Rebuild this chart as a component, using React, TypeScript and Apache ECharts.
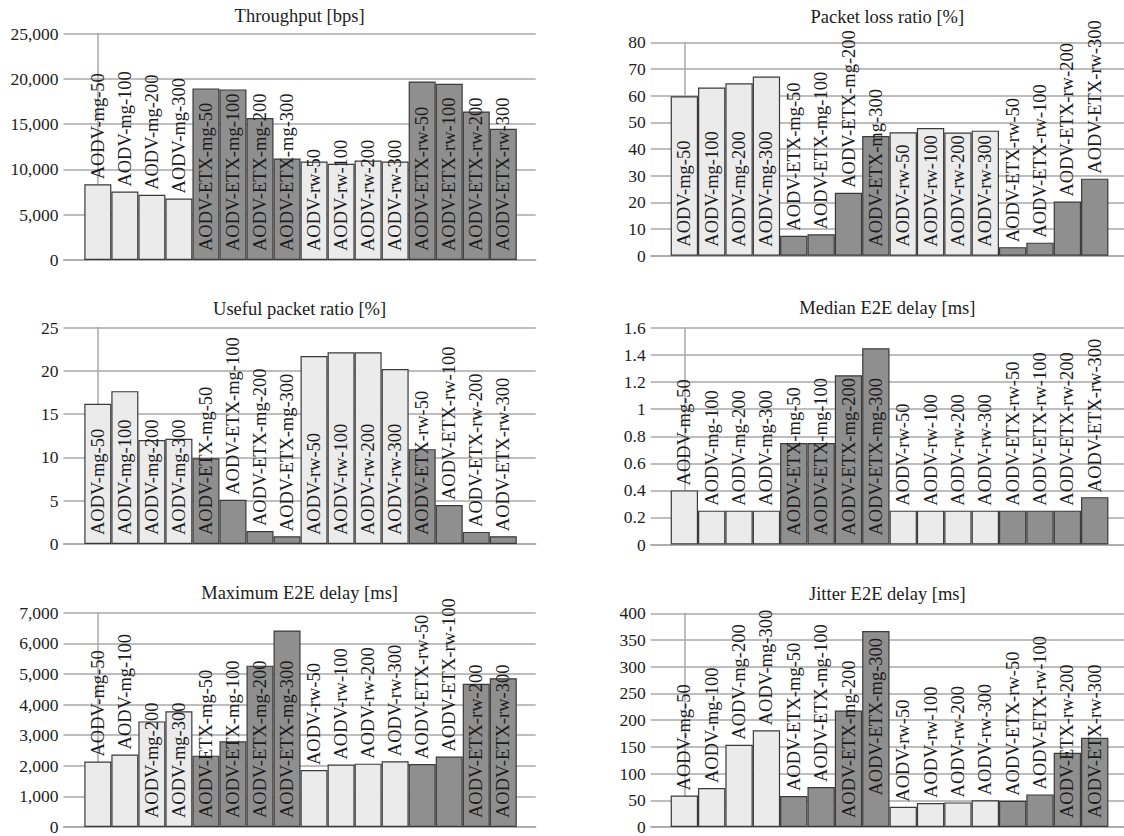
import React, { useEffect, useRef } from "react";
import * as echarts from "echarts";

const categories = [
  "AODV-mg-50", "AODV-mg-100", "AODV-mg-200", "AODV-mg-300",
  "AODV-ETX-mg-50", "AODV-ETX-mg-100", "AODV-ETX-mg-200", "AODV-ETX-mg-300",
  "AODV-rw-50", "AODV-rw-100", "AODV-rw-200", "AODV-rw-300",
  "AODV-ETX-rw-50", "AODV-ETX-rw-100", "AODV-ETX-rw-200", "AODV-ETX-rw-300",
];

const throughput = [8350, 7550, 7190, 6790, 18940, 18830, 15660, 11200, 10880, 10620, 10990, 10880, 19710, 19450, 16390, 14490];
const packetLoss = [59.8, 63.1, 64.7, 67.2, 7.5, 8.0, 23.6, 44.9, 46.3, 47.9, 46.2, 46.9, 3.2, 4.9, 20.3, 28.9];
const usefulRatio = [16.2, 17.65, 12.0, 12.15, 9.9, 5.1, 1.5, 0.9, 21.7, 22.15, 22.15, 20.2, 10.95, 4.5, 1.4, 0.9];
const medianDelay = [0.4, 0.25, 0.25, 0.25, 0.75, 0.75, 1.25, 1.45, 0.25, 0.25, 0.25, 0.25, 0.25, 0.25, 0.25, 0.35];
const maxDelay = [2140, 2370, 3450, 3780, 2330, 2800, 5270, 6420, 1860, 2040, 2070, 2150, 2060, 2300, 4680, 4860];
const jitterDelay = [59, 73, 154, 181, 58, 75, 218, 367, 38, 45, 46, 50, 49, 61, 139, 167];

const titles = [
  "Throughput [bps]", "Packet loss ratio [%]",
  "Useful packet ratio [%]", "Median E2E delay [ms]",
  "Maximum E2E delay [ms]", "Jitter E2E delay [ms]",
];
const yMax = [25000, 80, 25, 1.6, 7000, 400];
const yStep = [5000, 10, 5, 0.2, 1000, 50];
const useComma = [true, false, false, false, true, false];

// label placement per bar: b = from base inside, t = above bar, e = inside end
const placeThroughput = ["t","t","t","t","b","b","b","b","b","b","b","b","b","b","b","b"];
const placePacketLoss = ["b","b","b","b","t","t","t","b","b","b","b","b","t","t","t","t"];
const placeUseful = ["b","b","b","b","b","t","t","t","b","b","b","b","b","t","t","t"];
const placeMedian = ["t","t","t","t","b","b","b","b","t","t","t","t","t","t","t","t"];
const placeMax = ["t","t","b","b","b","b","b","b","t","t","t","t","t","t","b","b"];
const placeJitter = ["t","t","t","t","t","t","b","e","t","t","t","t","t","t","b","b"];

const seriesValues = [throughput, packetLoss, usefulRatio, medianDelay, maxDelay, jitterDelay];
const placements = [placeThroughput, placePacketLoss, placeUseful, placeMedian, placeMax, placeJitter];

// layout (pixels)
const grids = [
  { left: 63.5, top: 33.5, width: 472.2, height: 226.5, xMin: -1.27, xMax: 16.2, titleY: 15.5 },
  { left: 650.7, top: 42.4, width: 473.3, height: 213.3, xMin: -1.23, xMax: 16.07, titleY: 17 },
  { left: 63.5, top: 327.5, width: 472.2, height: 216.5, xMin: -1.27, xMax: 16.2, titleY: 309 },
  { left: 650.7, top: 328, width: 473.3, height: 216.5, xMin: -1.23, xMax: 16.07, titleY: 308 },
  { left: 63.5, top: 612.7, width: 472.2, height: 220.8, xMin: -1.27, xMax: 16.2, titleY: 593 },
  { left: 650.7, top: 613.3, width: 473.3, height: 219.1, xMin: -1.23, xMax: 16.07, titleY: 593.5 },
];

const FONT = "Liberation Serif";
const TEXT = "#1c1c1c";
const GRIDLINE = "#a9a9a9";
const LIGHT = "#ebebeb";
const DARK = "#8f8f8f";
const BORDER = "#3a3a3a";

function labelFor(p: string) {
  const common = {
    show: true,
    rotate: 90,
    verticalAlign: "middle",
    fontFamily: FONT,
    fontSize: 18.5,
    color: TEXT,
  };
  if (p === "b") return { ...common, position: "insideBottom", distance: 9, align: "left" };
  if (p === "e") return { ...common, position: "insideTop", distance: 7, align: "right" };
  return { ...common, position: "top", distance: 5, align: "left" };
}

function buildOption() {
  const grid = grids.map((g) => ({ left: g.left, top: g.top, width: g.width, height: g.height, containLabel: false }));
  const xAxis = grids.map((g, k) => ({
    type: "value",
    gridIndex: k,
    min: g.xMin,
    max: g.xMax,
    axisLine: { show: true, onZero: true, lineStyle: { color: GRIDLINE, width: 1.5 } },
    axisTick: { show: false },
    axisLabel: { show: false },
    splitLine: { show: false },
  }));
  const yAxis = grids.map((g, k) => ({
    type: "value",
    gridIndex: k,
    min: 0,
    max: yMax[k],
    interval: yStep[k],
    axisLine: { show: true, lineStyle: { color: GRIDLINE, width: 1.5 } },
    axisTick: { show: false },
    splitLine: { show: true, lineStyle: { color: GRIDLINE, width: 1.5 } },
    axisLabel: {
      margin: 5,
      fontFamily: FONT,
      fontSize: 17.5,
      color: TEXT,
      formatter: (v: number) =>
        useComma[k] ? v.toLocaleString("en-US") : String(Math.round(v * 100) / 100),
    },
  }));
  const series = seriesValues.map((vals, k) => {
    const g = grids[k];
    const barW = g.width / (g.xMax - g.xMin);
    return {
      type: "bar",
      xAxisIndex: k,
      yAxisIndex: k,
      barWidth: barW,
      data: vals.map((v, i) => {
        const group = Math.floor(i / 4);
        return {
          value: [i, v],
          name: categories[i],
          itemStyle: {
            color: group % 2 === 1 ? DARK : LIGHT,
            borderColor: BORDER,
            borderWidth: 1.2,
          },
          label: { ...labelFor(placements[k][i]), formatter: categories[i] },
        };
      }),
    };
  });
  const graphic = grids.map((g, k) => ({
    type: "text",
    x: g.left + g.width / 2,
    y: g.titleY,
    style: {
      text: titles[k],
      fontFamily: FONT,
      fontSize: 18.5,
      fill: TEXT,
      textAlign: "center",
      textVerticalAlign: "middle",
    },
  }));
  return {
    animation: false,
    backgroundColor: "#ffffff",
    textStyle: { fontFamily: FONT },
    grid,
    xAxis,
    yAxis,
    series,
    graphic,
  };
}

export default function App() {
  const ref = useRef<HTMLDivElement>(null);
  useEffect(() => {
    if (!ref.current) return;
    const chart = echarts.init(ref.current, null, { renderer: "svg" });
    chart.setOption(buildOption() as any);
    return () => chart.dispose();
  }, []);
  return (
    <div
      ref={ref}
      style={{ position: "absolute", left: 0, top: 0, width: 1124, height: 836, background: "#fff" }}
    />
  );
}
